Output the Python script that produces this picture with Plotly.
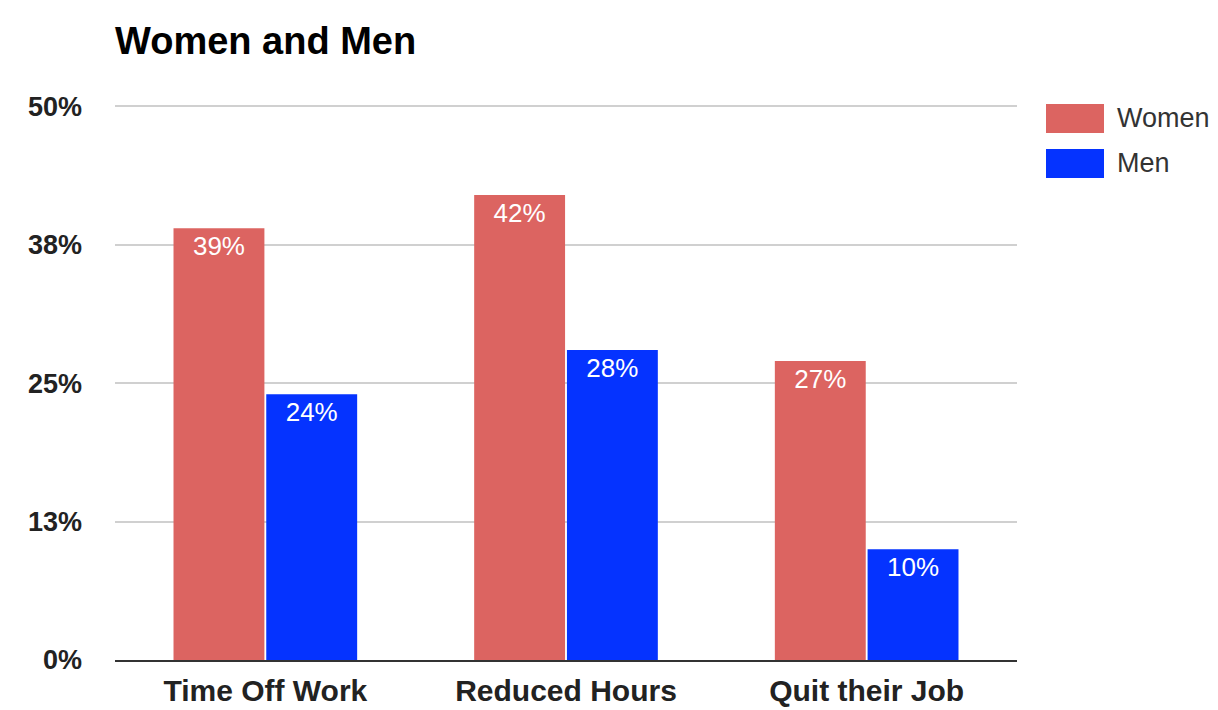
import plotly.graph_objects as go

categories = ["Time Off Work", "Reduced Hours", "Quit their Job"]
women = [0.39, 0.42, 0.27]
men = [0.24, 0.28, 0.10]
series_names = ["Women", "Men"]
series_colors = ["#DC6461", "#0533FF"]
y_tickvals = [0, 0.125, 0.25, 0.375, 0.5]
y_ticktext = ["0%", "13%", "25%", "38%", "50%"]

FONT = "Liberation Sans, Arial, sans-serif"

fig = go.Figure()
for name, vals, col in zip(series_names, [women, men], series_colors):
    fig.add_trace(go.Bar(
        x=categories, y=vals, name=name,
        marker=dict(color=col, line=dict(color=col, width=0)),
        text=[f"{round(v*100)}%" for v in vals],
        textposition="inside", insidetextanchor="end",
        textfont=dict(family=FONT, size=26, color="white"),
        textangle=0, showlegend=False,
    ))

# custom legend (large swatches)
for i, (name, col) in enumerate(zip(series_names, series_colors)):
    top = 1 - (104 - 105 + 45 * i) / 555
    fig.add_shape(type="rect", xref="paper", yref="paper",
                  x0=(1046 - 115) / 902, x1=(1104 - 115) / 902,
                  y0=top - 29 / 555, y1=top,
                  fillcolor=col, line=dict(width=0))
    fig.add_annotation(xref="paper", yref="paper", x=(1115 - 115) / 902,
                       y=top - 14.5 / 555,
                       text=name, showarrow=False, xanchor="left", yanchor="middle",
                       font=dict(family=FONT, size=27, color="#333333"))

fig.update_layout(
    width=1218, height=710,
    margin=dict(l=115, r=201, t=105, b=50, autoexpand=False),
    paper_bgcolor="white", plot_bgcolor="white",
    barmode="group", bargap=0.383, bargroupgap=0.02,
    title=dict(text="<b>Women and Men</b>", x=115/1218, xanchor="left",
               y=1 - 41/710, yanchor="middle",
               font=dict(family=FONT, size=38, color="#000000")),
)
fig.update_yaxes(range=[0, 0.5012], tickvals=y_tickvals, ticktext=y_ticktext,
                 showgrid=True, gridcolor="#D0D0D0", gridwidth=2,
                 zeroline=False, showline=False, automargin=False,
                 tickfont=dict(family=FONT, size=27, color="#222222", weight="bold"),
                 ticklabelstandoff=32)
fig.update_xaxes(showline=True, linecolor="#333333", linewidth=2, automargin=False,
                 tickfont=dict(family=FONT, size=30, color="#222222", weight="bold"),
                 ticklabelstandoff=3, showgrid=False)

fig.write_html("out.html")
